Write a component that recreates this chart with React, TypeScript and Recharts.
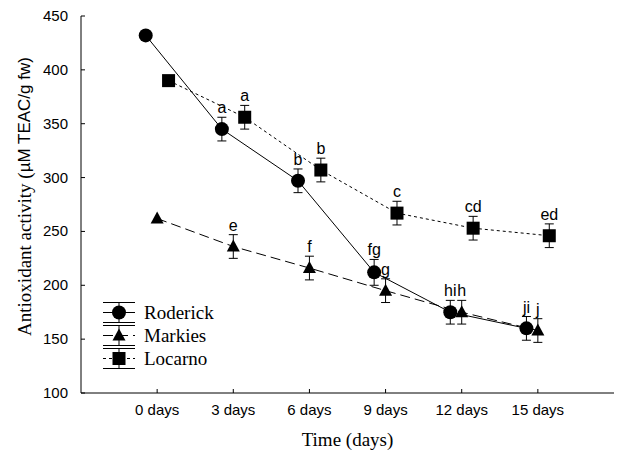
import { ErrorBar, LabelList, Legend, Line, LineChart, XAxis, YAxis } from "recharts";

const SANS = "'Liberation Sans', Arial, sans-serif";
const SERIF = "'Liberation Serif', 'Times New Roman', serif";

const DAYS = [0, 3, 6, 9, 12, 15];
const X_TICKS = [0, 3, 6, 9, 12, 15];
const Y_TICKS = [100, 150, 200, 250, 300, 350, 400, 450];

const RODERICK = [432, 345, 297, 212, 175, 160];
const RODERICK_ERR = [null, 11, 11, 12, 11, 11];
const RODERICK_SIG = ["", "a", "b", "fg", "hi", "ji"];

const MARKIES = [262, 236, 216, 195, 175, 158];
const MARKIES_ERR = [null, 11, 11, 11, 11, 11];
const MARKIES_SIG = ["", "e", "f", "g", "h", "j"];

const LOCARNO = [390, 356, 307, 267, 253, 246];
const LOCARNO_ERR = [null, 11, 11, 11, 11, 11];
const LOCARNO_SIG = ["", "a", "b", "c", "cd", "ed"];

// horizontal dodge (in days) so the three cultivars don't sit on top of each other
const DODGE = 0.45;

type Shape = "circle" | "triangle" | "square";

function rows(vals: number[], errs: (number | null)[], sigs: string[], shift: number) {
  return DAYS.map((d, i) => ({
    x: d + shift,
    y: vals[i],
    err: errs[i],
    sig: sigs[i],
    top: vals[i] + (errs[i] ?? 0),
  }));
}

const SERIES: { name: string; shape: Shape; dash?: string; data: ReturnType<typeof rows> }[] = [
  { name: "Roderick", shape: "circle", data: rows(RODERICK, RODERICK_ERR, RODERICK_SIG, -DODGE) },
  { name: "Markies", shape: "triangle", dash: "10 5", data: rows(MARKIES, MARKIES_ERR, MARKIES_SIG, 0) },
  { name: "Locarno", shape: "square", dash: "3 3", data: rows(LOCARNO, LOCARNO_ERR, LOCARNO_SIG, DODGE) },
];

function Marker({ shape, cx, cy }: { shape: Shape; cx: number; cy: number }) {
  if (shape === "circle") return <circle cx={cx} cy={cy} r={7} fill="#000" />;
  if (shape === "square") return <rect x={cx - 6.5} y={cy - 6.5} width={13} height={13} fill="#000" />;
  return <polygon points={`${cx},${cy - 7} ${cx + 6.5},${cy + 5} ${cx - 6.5},${cy + 5}`} fill="#000" />;
}

// inward tick marks on all four sides of the frame
function BottomTick({ x, y, payload }: any) {
  return (
    <g>
      <line x1={x} x2={x} y1={y} y2={y - 4} stroke="#000" />
      <text x={x} y={y + 22} textAnchor="middle" fontFamily={SANS} fontSize={15} fill="#000">
        {`${payload.value} days`}
      </text>
    </g>
  );
}
function TopTick({ x, y }: any) {
  return <line x1={x} x2={x} y1={y} y2={y + 4} stroke="#000" />;
}
function LeftTick({ x, y, payload }: any) {
  return (
    <g>
      <line x1={x} x2={x + 4} y1={y} y2={y} stroke="#000" />
      <text x={x - 13} y={y + 5} textAnchor="end" fontFamily={SANS} fontSize={15} fill="#000">
        {payload.value}
      </text>
    </g>
  );
}
function RightTick({ x, y }: any) {
  return <line x1={x} x2={x - 4} y1={y} y2={y} stroke="#000" />;
}

function LegendBox() {
  return (
    <svg width={150} height={72}>
      {SERIES.map((s, i) => {
        const cy = 12.5 + 23 * i;
        return (
          <g key={s.name}>
            <line x1={3} x2={35} y1={cy - 10} y2={cy - 10} stroke="#000" />
            <line x1={3} x2={35} y1={cy + 10} y2={cy + 10} stroke="#000" />
            <line x1={19} x2={19} y1={cy - 10} y2={cy + 10} stroke="#000" />
            <line x1={3} x2={35} y1={cy} y2={cy} stroke="#000" strokeDasharray={s.dash} />
            <Marker shape={s.shape} cx={19} cy={cy} />
            <text x={44} y={cy + 6.5} fontFamily={SERIF} fontSize={19} fill="#000">
              {s.name}
            </text>
          </g>
        );
      })}
    </svg>
  );
}

export default function App() {
  return (
    <div style={{ position: "absolute", left: 0, top: 0, width: 620, height: 453, background: "#fff" }}>
      <LineChart width={620} height={453} margin={{ top: 16, right: 6, bottom: 0, left: 0 }}>
        <XAxis
          type="number"
          dataKey="x"
          domain={[-3, 18]}
          ticks={X_TICKS}
          height={60}
          stroke="#000"
          tickSize={0}
          tickMargin={0}
          tick={<BottomTick />}
          label={{
            content: ({ viewBox }: any) => (
              <text x={viewBox.x + viewBox.width / 2} y={446} textAnchor="middle" fontFamily={SERIF} fontSize={19} fill="#000">
                Time (days)
              </text>
            ),
          }}
        />
        <XAxis xAxisId="top" orientation="top" type="number" domain={[-3, 18]} ticks={X_TICKS} height={0} stroke="#000" tickSize={0} tick={<TopTick />} />
        <YAxis
          type="number"
          domain={[100, 450]}
          ticks={Y_TICKS}
          width={81}
          stroke="#000"
          tickSize={0}
          tickMargin={0}
          tick={<LeftTick />}
          label={{
            content: ({ viewBox }: any) => {
              const cy = viewBox.y + viewBox.height / 2 - 8;
              return (
                <text x={24} y={cy} transform={`rotate(-90 24 ${cy})`} textAnchor="middle" dominantBaseline="central" fontFamily={SERIF} fontSize={19} fill="#000">
                  Antioxidant activity (<tspan fontFamily={SANS} fontSize={17}>µM TEAC/g fw)</tspan>
                </text>
              );
            },
          }}
        />
        <YAxis yAxisId="right" orientation="right" type="number" domain={[100, 450]} ticks={Y_TICKS} width={0} stroke="#000" tickSize={0} tick={<RightTick />} />
        <Legend
          layout="vertical"
          align="center"
          verticalAlign="middle"
          content={() => <LegendBox />}
          wrapperStyle={{ left: 100, top: 300, width: 150 }}
        />
        {SERIES.map((s) => (
          <Line
            key={s.name}
            name={s.name}
            data={s.data}
            dataKey="y"
            type="linear"
            stroke="#000"
            strokeWidth={1}
            strokeDasharray={s.dash}
            isAnimationActive={false}
            dot={(p: any) => <Marker key={p.index} shape={s.shape} cx={p.cx} cy={p.cy} />}
            activeDot={false}
          >
            <ErrorBar dataKey="err" direction="y" width={4.5} stroke="#000" strokeWidth={1} />
          </Line>
        ))}
        {SERIES.map((s) => (
          <Line
            key={`${s.name}-sig`}
            data={s.data}
            dataKey="top"
            stroke="none"
            dot={false}
            activeDot={false}
            legendType="none"
            isAnimationActive={false}
          >
            <LabelList dataKey="sig" position="top" offset={4} fontFamily={SANS} fontSize={16} fill="#000" />
          </Line>
        ))}
      </LineChart>
    </div>
  );
}
